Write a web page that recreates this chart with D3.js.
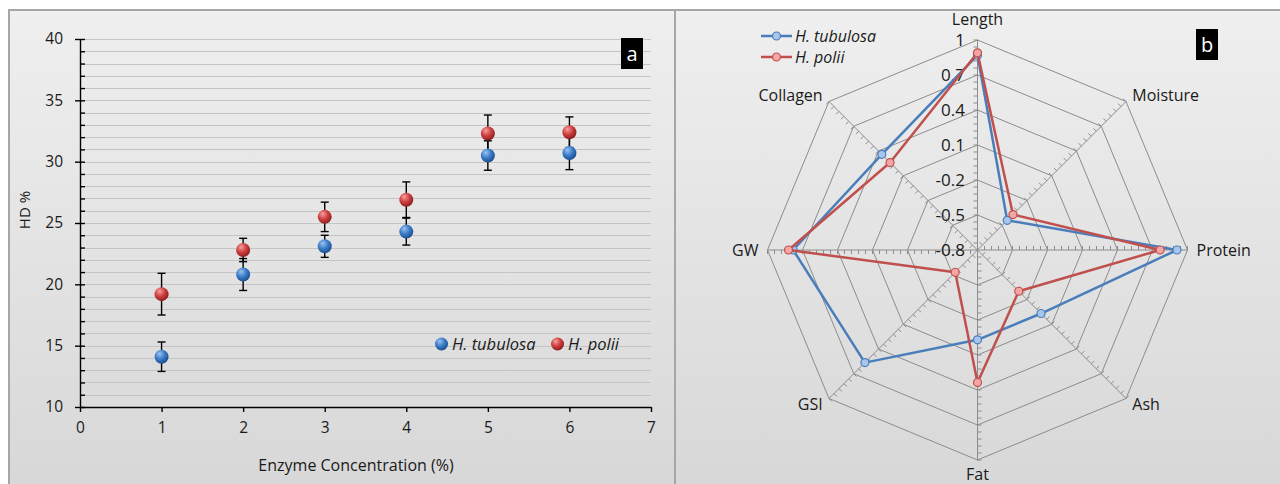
<!DOCTYPE html>
<html>
<head>
<meta charset="utf-8">
<script src="https://cdn.jsdelivr.net/npm/d3@7"></script>
<style>
  body { margin: 0; background: #fff; }
  svg { display: block; font-family: 'Open Sans', sans-serif; }
</style>
</head>
<body>
<svg id="chart" width="1280" height="484"></svg>
<script>
// ---- Panel a: hydrolysis degree vs enzyme concentration ----
const concentrations = [1, 2, 3, 4, 5, 6];
const tubulosaHD = [14.1, 20.8, 23.1, 24.3, 30.5, 30.7];
const tubulosaErr = [1.2, 1.3, 0.9, 1.1, 1.2, 1.35];
const poliiHD = [19.2, 22.8, 25.5, 26.9, 32.3, 32.4];
const poliiErr = [1.7, 0.95, 1.2, 1.45, 1.5, 1.25];
const xTicks = [0, 1, 2, 3, 4, 5, 6, 7];
const yTicks = [10, 15, 20, 25, 30, 35, 40];
const yMinorTicks = d3.range(10, 41, 1);

// ---- Panel b: standardised traits (radar) ----
const traits = ["Length", "Moisture", "Protein", "Ash", "Fat", "GSI", "GW", "Collagen"];
const tubulosaTraits = [0.87, -0.44, 0.91, -0.03, -0.03, 0.565, 0.78, 0.36];
const poliiTraits = [0.89, -0.37, 0.765, -0.30, 0.335, -0.53, 0.82, 0.26];
const radarTicks = [-0.8, -0.5, -0.2, 0.1, 0.4, 0.7, 1];

const seriesNames = ["H. tubulosa", "H. polii"];

const svg = d3.select("#chart");
const defs = svg.append("defs");

// panel background gradient
const bg = defs.append("linearGradient").attr("id", "panelBg")
  .attr("x1", 0).attr("y1", 0).attr("x2", 0).attr("y2", 1);
bg.append("stop").attr("offset", "0%").attr("stop-color", "#efefef");
bg.append("stop").attr("offset", "100%").attr("stop-color", "#d7d7d7");

// glossy sphere gradients for the scatter markers
function sphere(id, light, mid, dark) {
  const g = defs.append("radialGradient").attr("id", id)
    .attr("cx", "40%").attr("cy", "35%").attr("r", "65%").attr("fx", "35%").attr("fy", "28%");
  g.append("stop").attr("offset", "0%").attr("stop-color", light);
  g.append("stop").attr("offset", "55%").attr("stop-color", mid);
  g.append("stop").attr("offset", "100%").attr("stop-color", dark);
}
sphere("sphBlue", "#9cc3f0", "#3b7cc9", "#1d4f8f");
sphere("sphRed", "#f5a0a0", "#cf3f3f", "#8c1f1f");

// panels
svg.append("rect").attr("x", 9).attr("y", 10).attr("width", 666).attr("height", 490)
  .attr("fill", "url(#panelBg)").attr("stroke", "#a6a6a6").attr("stroke-width", 2);
svg.append("rect").attr("x", 675).attr("y", 10).attr("width", 620).attr("height", 490)
  .attr("fill", "url(#panelBg)").attr("stroke", "#a6a6a6").attr("stroke-width", 2);

// ================= Panel a =================
const x = d3.scaleLinear().domain([0, 7]).range([80, 651]);
const y = d3.scaleLinear().domain([10, 40]).range([407, 39]);
const gA = svg.append("g");

// horizontal gridlines
gA.append("g").selectAll("line").data(yMinorTicks.filter(v => v > 10))
  .join("line")
  .attr("x1", x(0)).attr("x2", x(7))
  .attr("y1", d => Math.round(y(d)) + 0.5).attr("y2", d => Math.round(y(d)) + 0.5)
  .attr("stroke", "#c4c4c4").attr("stroke-width", 1);

// y axis: major ticks outside with labels, minor ticks inside
const yAxis = gA.append("g").attr("transform", `translate(${x(0)},0)`)
  .call(d3.axisLeft(y).tickValues(yTicks).tickSize(5).tickSizeOuter(0).tickPadding(12).tickFormat(d3.format("d")));
gA.append("g").attr("transform", `translate(${x(0)},0)`)
  .call(d3.axisRight(y).tickValues(yMinorTicks).tickSize(5).tickSizeOuter(0).tickFormat(""))
  .call(g => g.select(".domain").remove());
const xAxis = gA.append("g").attr("transform", `translate(0,${y(10)})`)
  .call(d3.axisBottom(x).tickValues(xTicks).tickSize(5).tickSizeOuter(0).tickPadding(10).tickFormat(d3.format("d")));

[yAxis, xAxis].forEach(ax => {
  ax.selectAll("text").attr("font-size", 15.5).attr("fill", "#1a1a1a").attr("font-family", "'Open Sans', sans-serif");
});
gA.selectAll(".domain, .tick line").attr("stroke", "#000").attr("stroke-width", 1.4);

// axis titles
gA.append("text").attr("transform", "translate(30,210) rotate(-90)")
  .attr("text-anchor", "middle").attr("font-size", 15).attr("fill", "#1a1a1a").text("HD %");
gA.append("text").attr("x", 356).attr("y", 471)
  .attr("text-anchor", "middle").attr("font-size", 16).attr("fill", "#1a1a1a")
  .text("Enzyme Concentration (%)");

// error bars + markers
const scatterSeries = [
  { vals: tubulosaHD, err: tubulosaErr, fill: "url(#sphBlue)" },
  { vals: poliiHD, err: poliiErr, fill: "url(#sphRed)" }
];
scatterSeries.forEach(s => {
  const g = gA.append("g");
  const rows = concentrations.map((c, i) => ({ c, v: s.vals[i], e: s.err[i] }));
  const eb = g.selectAll("g.eb").data(rows).join("g").attr("class", "eb")
    .attr("stroke", "#000").attr("stroke-width", 1.4);
  eb.append("line").attr("x1", d => x(d.c)).attr("x2", d => x(d.c))
    .attr("y1", d => y(d.v - d.e)).attr("y2", d => y(d.v + d.e));
  eb.append("line").attr("x1", d => x(d.c) - 4).attr("x2", d => x(d.c) + 4)
    .attr("y1", d => y(d.v - d.e)).attr("y2", d => y(d.v - d.e));
  eb.append("line").attr("x1", d => x(d.c) - 4).attr("x2", d => x(d.c) + 4)
    .attr("y1", d => y(d.v + d.e)).attr("y2", d => y(d.v + d.e));
});
scatterSeries.forEach(s => {
  gA.append("g").selectAll("circle")
    .data(concentrations.map((c, i) => ({ c, v: s.vals[i] })))
    .join("circle")
    .attr("cx", d => x(d.c)).attr("cy", d => y(d.v)).attr("r", 7)
    .attr("fill", s.fill);
});

// legend a
const legA = gA.append("g");
[{ cx: 441.5, tx: 452, fill: "url(#sphBlue)" }, { cx: 557.5, tx: 568, fill: "url(#sphRed)" }]
  .forEach((l, i) => {
    legA.append("circle").attr("cx", l.cx).attr("cy", 344).attr("r", 6.5).attr("fill", l.fill);
    legA.append("text").attr("x", l.tx).attr("y", 344).attr("dy", "0.35em")
      .attr("font-size", 16.5).attr("font-style", "italic").attr("fill", "#1a1a1a").text(seriesNames[i]);
  });

// panel tag a
gA.append("rect").attr("x", 621).attr("y", 38).attr("width", 22).attr("height", 31).attr("fill", "#000");
gA.append("text").attr("x", 632).attr("y", 54).attr("dy", "0.35em").attr("text-anchor", "middle")
  .attr("font-size", 20).attr("fill", "#fff").text("a");

// ================= Panel b =================
const cx = 977.5, cy = 250, R = 210;
const r = d3.scaleLinear().domain([-0.8, 1]).range([0, R]);
const angle = i => i * 2 * Math.PI / traits.length;
const pt = (i, v) => [cx + Math.sin(angle(i)) * r(v), cy - Math.cos(angle(i)) * r(v)];
const gB = svg.append("g");
const gridColor = "#8c8c8c";

// octagonal rings
gB.append("g").selectAll("polygon").data(radarTicks.slice(1)).join("polygon")
  .attr("points", v => traits.map((t, i) => pt(i, v).join(",")).join(" "))
  .attr("fill", "none").attr("stroke", gridColor).attr("stroke-width", 1);

// spokes
gB.append("g").selectAll("line").data(traits).join("line")
  .attr("x1", cx).attr("y1", cy)
  .attr("x2", (t, i) => pt(i, 1)[0]).attr("y2", (t, i) => pt(i, 1)[1])
  .attr("stroke", gridColor).attr("stroke-width", 1);

// minor tick marks on every spoke
const minorVals = d3.range(1, 31).map(k => -0.8 + k * 0.06);
const tickData = [];
traits.forEach((t, i) => minorVals.forEach(v => tickData.push({ i, v })));
gB.append("g").selectAll("line").data(tickData).join("line")
  .attr("x1", d => pt(d.i, d.v)[0]).attr("y1", d => pt(d.i, d.v)[1])
  .attr("x2", d => pt(d.i, d.v)[0] - Math.cos(angle(d.i)) * 4)
  .attr("y2", d => pt(d.i, d.v)[1] - Math.sin(angle(d.i)) * 4)
  .attr("stroke", gridColor).attr("stroke-width", 1);

// value labels along the first spoke
gB.append("g").selectAll("text").data(radarTicks).join("text")
  .attr("x", 965).attr("y", v => cy - r(v)).attr("dy", "0.35em")
  .attr("text-anchor", "end").attr("font-size", 17).attr("fill", "#1a1a1a")
  .text(v => String(v));

// category labels
gB.append("g").selectAll("text").data(traits).join("text")
  .attr("x", (t, i) => pt(i, 1)[0] + Math.sin(angle(i)) * 9)
  .attr("y", (t, i) => {
    const c = Math.cos(angle(i));
    if (Math.abs(Math.sin(angle(i))) < 0.1) return pt(i, 1)[1] - c * (c > 0 ? 21 : 14);
    return pt(i, 1)[1] - c * 8.5;
  })
  .attr("dy", "0.35em")
  .attr("text-anchor", (t, i) => {
    const s = Math.sin(angle(i));
    return s > 0.1 ? "start" : s < -0.1 ? "end" : "middle";
  })
  .attr("font-size", 16).attr("fill", "#1a1a1a").text(t => t);

// series
const radarSeries = [
  { vals: tubulosaTraits, line: "#4a7ebb", fill: "#a8c6ec" },
  { vals: poliiTraits, line: "#c0504d", fill: "#f3a6a4" }
];
const lineGen = d3.line().curve(d3.curveLinearClosed);
radarSeries.forEach(s => {
  const pts = s.vals.map((v, i) => pt(i, v));
  gB.append("path").attr("d", lineGen(pts)).attr("fill", "none")
    .attr("stroke", s.line).attr("stroke-width", 2.5).attr("stroke-linejoin", "round");
  gB.append("g").selectAll("circle").data(pts).join("circle")
    .attr("cx", d => d[0]).attr("cy", d => d[1]).attr("r", 4)
    .attr("fill", s.fill).attr("stroke", s.line).attr("stroke-width", 1.2);
});

// legend b
radarSeries.forEach((s, i) => {
  const ly = 36 + i * 21;
  gB.append("line").attr("x1", 761).attr("x2", 792).attr("y1", ly).attr("y2", ly)
    .attr("stroke", s.line).attr("stroke-width", 2.5);
  gB.append("circle").attr("cx", 776.5).attr("cy", ly).attr("r", 4)
    .attr("fill", s.fill).attr("stroke", s.line).attr("stroke-width", 1.2);
  gB.append("text").attr("x", 795).attr("y", ly).attr("dy", "0.35em")
    .attr("font-size", 16).attr("font-style", "italic").attr("fill", "#1a1a1a").text(seriesNames[i]);
});

// panel tag b
gB.append("rect").attr("x", 1196).attr("y", 29).attr("width", 22).attr("height", 31).attr("fill", "#000");
gB.append("text").attr("x", 1207).attr("y", 45).attr("dy", "0.35em").attr("text-anchor", "middle")
  .attr("font-size", 20).attr("fill", "#fff").text("b");
</script>
</body>
</html>
